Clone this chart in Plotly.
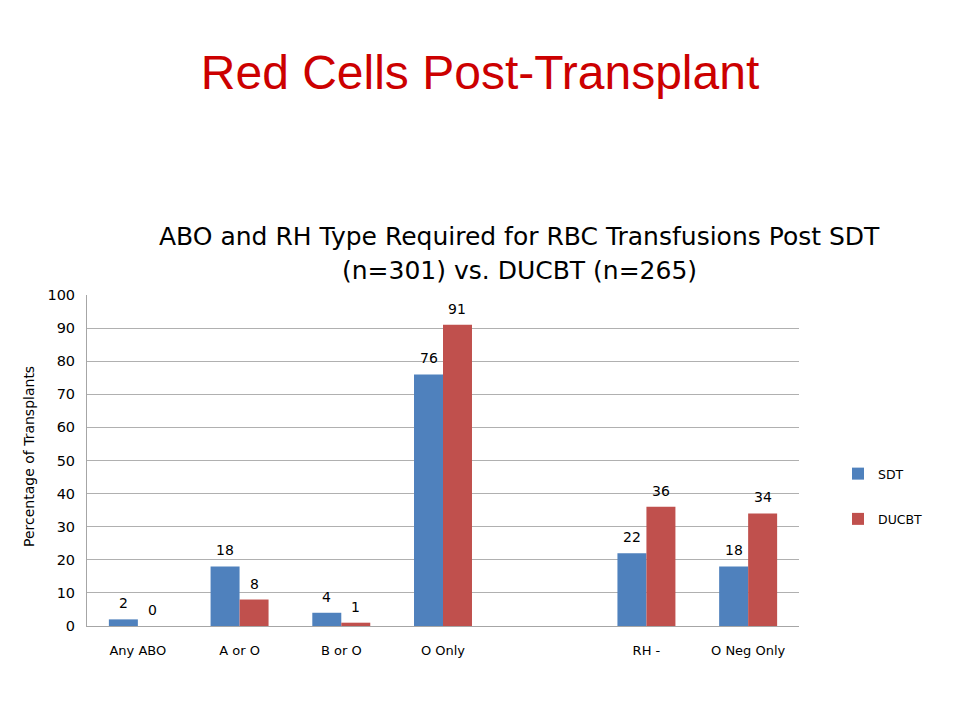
import plotly.graph_objects as go

categories = ["Any ABO", "A or O", "B or O", "O Only", " ", "RH -", "O Neg Only"]
sdt = [2, 18, 4, 76, None, 22, 18]
ducbt = [0, 8, 1, 91, None, 36, 34]
y_ticks = [0, 10, 20, 30, 40, 50, 60, 70, 80, 90, 100]

BLUE = "#4f81bd"
RED = "#c0504d"
FONT = "DejaVu Sans"

W, H = 960, 720
OFF = 8  # page body margin
# target plot box in page pixels
PL, PR, PT, PB = 87, 799, 295, 626
L = PL - OFF
T = PT - OFF
R = W + OFF - PR
B = H + OFF - PB
BARGAP = 0.43
plot_w = PR - PL
plot_h = PB - PT
bar_px = plot_w / len(categories) * (1 - BARGAP) / 2

fig = go.Figure()
fig.add_trace(go.Bar(name="SDT", x=categories, y=sdt, marker_color=BLUE,
                     marker_line_width=0, legendgroup="a"))
fig.add_trace(go.Bar(name="DUCBT", x=categories, y=ducbt, marker_color=RED,
                     marker_line_width=0, legendgroup="b"))

anns = []
for series, shift in ((sdt, -bar_px / 2), (ducbt, bar_px / 2)):
    for c, v in zip(categories, series):
        if v is None:
            continue
        anns.append(dict(x=c, y=v, xref="x", yref="y", text=str(v), showarrow=False,
                         xshift=shift, yshift=16, yanchor="middle",
                         font=dict(family=FONT, size=14, color="#000")))

def py(pix):
    return (PB - pix) / plot_h
def px(pix):
    return (pix - PL) / plot_w

anns.append(dict(x=px(520), y=py(236), xref="paper", yref="paper", showarrow=False,
                 text="ABO and RH Type Required for RBC Transfusions Post SDT",
                 font=dict(family=FONT, size=25, color="#000"), yanchor="middle"))
anns.append(dict(x=px(520), y=py(270), xref="paper", yref="paper", showarrow=False,
                 text="(n=301) vs. DUCBT (n=265)",
                 font=dict(family=FONT, size=25, color="#000"), yanchor="middle"))
anns.append(dict(x=px(29), y=py(457), xref="paper", yref="paper", showarrow=False,
                 text="Percentage of Transplants", textangle=-90,
                 font=dict(family=FONT, size=14, color="#000"),
                 xanchor="center", yanchor="middle"))

fig.update_layout(
    width=W, height=H,
    margin=dict(l=L, r=R, t=T, b=B, autoexpand=False),
    paper_bgcolor="white", plot_bgcolor="white",
    barmode="group", bargap=BARGAP, bargroupgap=0,
    title=dict(text="Red Cells Post-Transplant", x=(480 - OFF) / W, xanchor="center",
               y=1 - (72 - OFF) / H, yanchor="middle",
               font=dict(family="Liberation Sans", size=48, color="#cc0000")),
    showlegend=True,
    legend=dict(x=px(838), y=py(459), xanchor="left", yanchor="top",
                font=dict(family=FONT, size=12.5, color="#000"),
                tracegroupgap=26, traceorder="grouped", bgcolor="rgba(0,0,0,0)"),
    annotations=anns,
    xaxis=dict(type="category", categoryorder="array", categoryarray=categories,
               showgrid=False, showline=True, linecolor="#a6a6a6", linewidth=1,
               ticks="", ticklabelstandoff=12,
               tickfont=dict(family=FONT, size=13, color="#000")),
    yaxis=dict(range=[0, 100], tickvals=y_ticks, showgrid=True, gridcolor="#b0b0b0",
               gridwidth=1, showline=True, linecolor="#a6a6a6", linewidth=1,
               zeroline=False, ticks="", ticklabelstandoff=8,
               tickfont=dict(family=FONT, size=14.5, color="#000")),
)

fig.write_html("out.html")
